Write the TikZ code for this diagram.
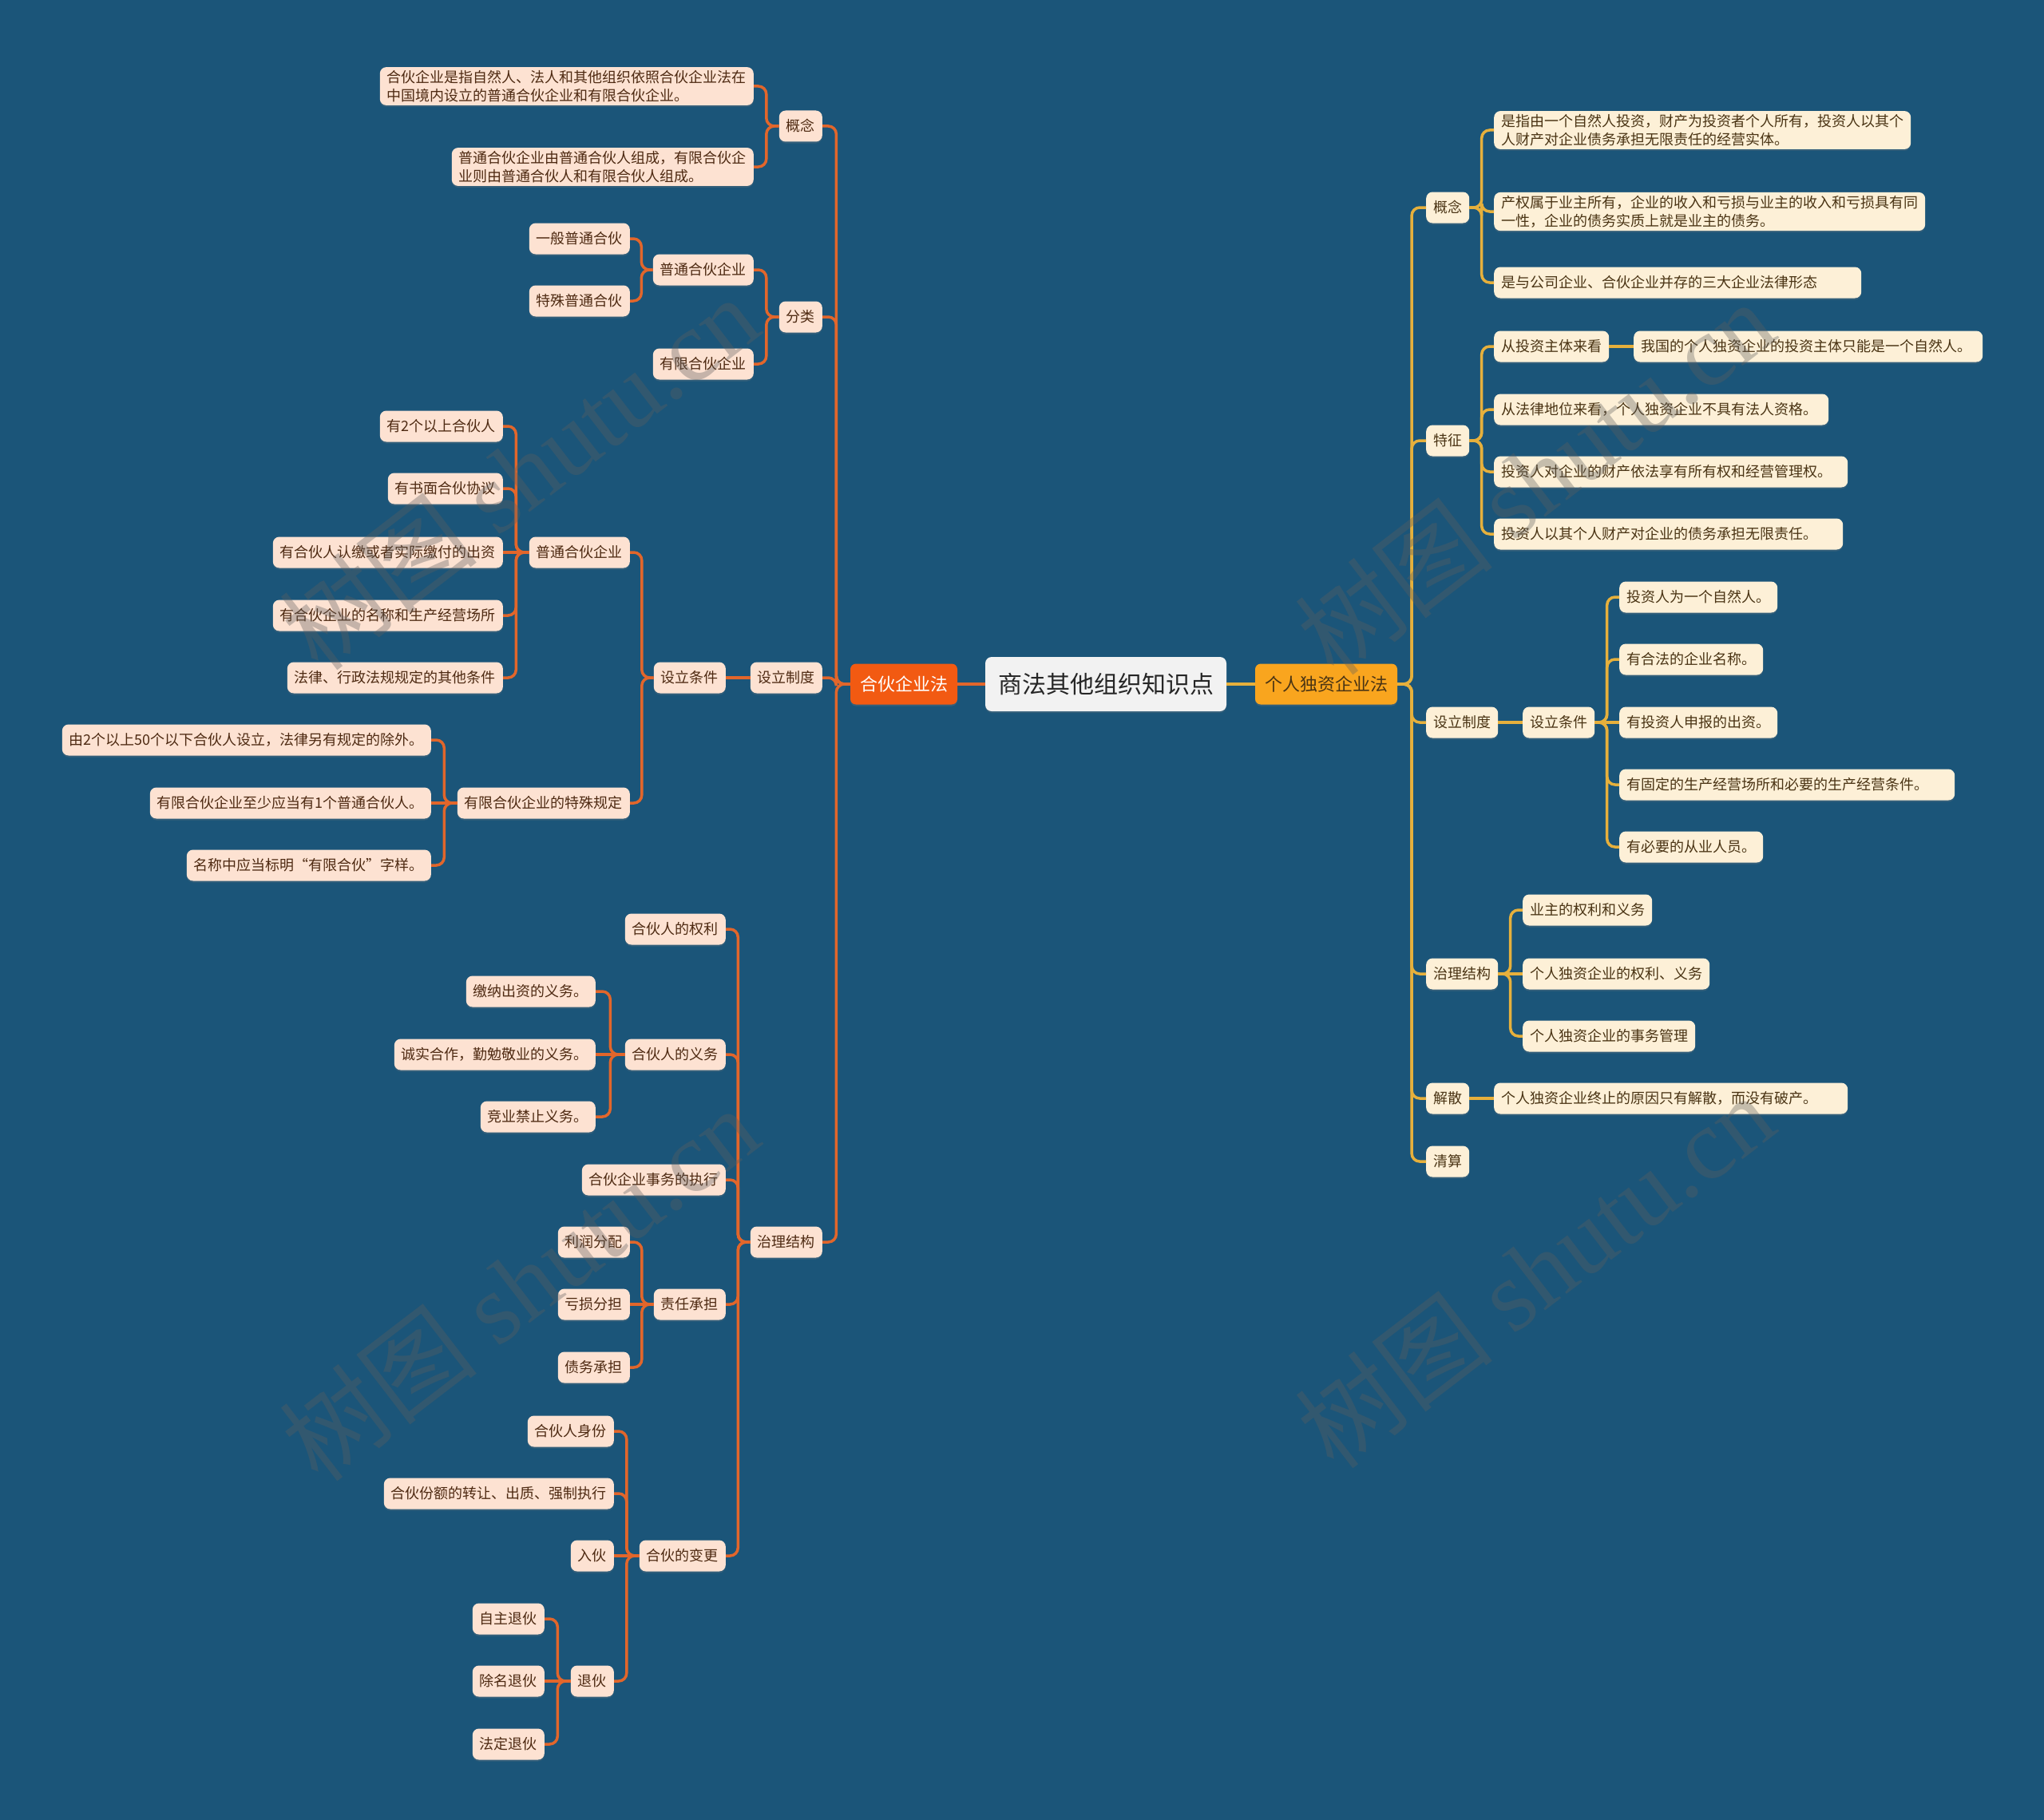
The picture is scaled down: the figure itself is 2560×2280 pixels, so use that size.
\documentclass[tikz,border=0pt]{standalone}
\usepackage{fontspec}
\setmainfont{Noto Sans CJK SC}
\newfontfamily\wmlatin{Liberation Serif}
\usetikzlibrary{calc,shadows}
\definecolor{bgc}{HTML}{1B5579}
\definecolor{lfill}{HTML}{FDE2D2}
\definecolor{rfill}{HTML}{FDF0D7}
\definecolor{ltext}{HTML}{4E2A12}
\definecolor{rtext}{HTML}{4A3414}
\definecolor{lcol}{HTML}{E2662B}
\definecolor{rcol}{HTML}{E6B03C}
\definecolor{hhfill}{HTML}{F25A12}
\definecolor{grfill}{HTML}{F9A51E}
\definecolor{cfill}{HTML}{F2F2F2}
\definecolor{wmc}{HTML}{5E5E5E}
\tikzset{
  base/.style={rounded corners=8pt, inner xsep=9pt, inner ysep=4pt, minimum height=39pt,
    font=\fontsize{18}{23}\selectfont, align=left,
    drop shadow={shadow xshift=0pt,shadow yshift=-2pt,opacity=0.25}},
  ln/.style={base, fill=lfill, text=ltext, anchor=east},
  rn/.style={base, fill=rfill, text=rtext, anchor=west},
  lline/.style={draw=lcol, line width=3.5pt, rounded corners=10pt},
  rline/.style={draw=rcol, line width=3.5pt, rounded corners=10pt},
  wmark/.style={rotate=37.5, text=wmc, text opacity=0.35, font=\fontsize{126}{130}\selectfont, inner sep=0pt},
}
\newcommand\LConn[2]{\coordinate (mm) at ($(#1.west)!0.5!(#2.east)$);
  \draw[lline] (#1.west) -- (#1.west -| mm) |- (#2.east);}
\newcommand\RConn[2]{\coordinate (mm) at ($(#1.east)!0.5!(#2.west)$);
  \draw[rline] (#1.east) -- (#1.east -| mm) |- (#2.west);}
\newcommand\LStr[2]{\draw[lline] (#1.west) -- (#2.east);}
\newcommand\RStr[2]{\draw[rline] (#1.east) -- (#2.west);}
\newcommand\wmtext{树图 {\wmlatin shutu.cn}}
\begin{document}
\begin{tikzpicture}[x=1pt,y=-1pt]
\fill[bgc] (0,0) rectangle (2560,2280);
\useasboundingbox (0,0) rectangle (2560,2280);

% central
\node[rounded corners=8pt, fill=cfill, text=black!85, minimum width=302pt, minimum height=68pt,
  font=\fontsize{30}{36}\selectfont, drop shadow={shadow xshift=0pt,shadow yshift=-2pt,opacity=0.25}]
  (C) at (1385,857) {商法其他组织知识点};
\node[rounded corners=7pt, fill=hhfill, text=white, minimum height=51pt, inner xsep=12pt,
  font=\fontsize{22}{26}\selectfont, drop shadow={shadow xshift=0pt,shadow yshift=-2pt,opacity=0.25}]
  (L) at (1132,857) {合伙企业法};
\node[rounded corners=7pt, fill=grfill, text=rtext, minimum height=51pt, inner xsep=12pt,
  font=\fontsize{22}{26}\selectfont, drop shadow={shadow xshift=0pt,shadow yshift=-2pt,opacity=0.25}]
  (R) at (1661,857) {个人独资企业法};
\draw[draw=lcol, line width=4pt] (C.west) -- (L.east);
\draw[draw=rcol, line width=4pt] (C.east) -- (R.west);

% ---------------- left tree
\node[ln] (La) at (1030,158) {概念};
\node[ln] (La1) at (944,108) {合伙企业是指自然人、法人和其他组织依照合伙企业法在\\中国境内设立的普通合伙企业和有限合伙企业。};
\node[ln] (La2) at (944,209) {普通合伙企业由普通合伙人组成，有限合伙企\\业则由普通合伙人和有限合伙人组成。};
\node[ln] (Lb) at (1030,397) {分类};
\node[ln] (Lb1) at (944,338) {普通合伙企业};
\node[ln] (Lb11) at (789,299) {一般普通合伙};
\node[ln] (Lb12) at (789,377) {特殊普通合伙};
\node[ln] (Lb2) at (944,456) {有限合伙企业};
\node[ln] (Lc) at (1030,849) {设立制度};
\node[ln] (Lc1) at (909,849) {设立条件};
\node[ln] (Lc11) at (789,692) {普通合伙企业};
\node[ln] (Lc111) at (630,534) {有2个以上合伙人};
\node[ln] (Lc112) at (630,612) {有书面合伙协议};
\node[ln] (Lc113) at (630,692) {有合伙人认缴或者实际缴付的出资};
\node[ln] (Lc114) at (630,771) {有合伙企业的名称和生产经营场所};
\node[ln] (Lc115) at (630,849) {法律、行政法规规定的其他条件};
\node[ln] (Lc12) at (789,1006) {有限合伙企业的特殊规定};
\node[ln] (Lc121) at (540,927) {由2个以上50个以下合伙人设立，法律另有规定的除外。};
\node[ln] (Lc122) at (540,1006) {有限合伙企业至少应当有1个普通合伙人。};
\node[ln] (Lc123) at (540,1084) {名称中应当标明“有限合伙”字样。};
\node[ln] (Ld) at (1030,1556) {治理结构};
\node[ln] (Ld1) at (909,1164) {合伙人的权利};
\node[ln] (Ld2) at (909,1321) {合伙人的义务};
\node[ln] (Ld21) at (746,1242) {缴纳出资的义务。};
\node[ln] (Ld22) at (746,1321) {诚实合作，勤勉敬业的义务。};
\node[ln] (Ld23) at (746,1399) {竞业禁止义务。};
\node[ln] (Ld3) at (909,1478) {合伙企业事务的执行};
\node[ln] (Ld4) at (909,1634) {责任承担};
\node[ln] (Ld41) at (789,1556) {利润分配};
\node[ln] (Ld42) at (789,1634) {亏损分担};
\node[ln] (Ld43) at (789,1713) {债务承担};
\node[ln] (Ld5) at (909,1949) {合伙的变更};
\node[ln] (Ld51) at (769,1793) {合伙人身份};
\node[ln] (Ld52) at (769,1871) {合伙份额的转让、出质、强制执行};
\node[ln] (Ld53) at (769,1949) {入伙};
\node[ln] (Ld54) at (769,2106) {退伙};
\node[ln] (Ld541) at (682,2028) {自主退伙};
\node[ln] (Ld542) at (682,2106) {除名退伙};
\node[ln] (Ld543) at (682,2185) {法定退伙};

\LConn{L}{La}\LConn{L}{Lb}\LConn{L}{Lc}\LConn{L}{Ld}
\LConn{La}{La1}\LConn{La}{La2}
\LConn{Lb}{Lb1}\LConn{Lb}{Lb2}
\LConn{Lb1}{Lb11}\LConn{Lb1}{Lb12}
\LStr{Lc}{Lc1}
\LConn{Lc1}{Lc11}\LConn{Lc1}{Lc12}
\LConn{Lc11}{Lc111}\LConn{Lc11}{Lc112}\LStr{Lc11}{Lc113}\LConn{Lc11}{Lc114}\LConn{Lc11}{Lc115}
\LConn{Lc12}{Lc121}\LStr{Lc12}{Lc122}\LConn{Lc12}{Lc123}
\LConn{Ld}{Ld1}\LConn{Ld}{Ld2}\LConn{Ld}{Ld3}\LConn{Ld}{Ld4}\LConn{Ld}{Ld5}
\LConn{Ld2}{Ld21}\LStr{Ld2}{Ld22}\LConn{Ld2}{Ld23}
\LConn{Ld4}{Ld41}\LStr{Ld4}{Ld42}\LConn{Ld4}{Ld43}
\LConn{Ld5}{Ld51}\LConn{Ld5}{Ld52}\LStr{Ld5}{Ld53}\LConn{Ld5}{Ld54}
\LConn{Ld54}{Ld541}\LStr{Ld54}{Ld542}\LConn{Ld54}{Ld543}

% ---------------- right tree
\node[rn] (Ra) at (1786,260) {概念};
\node[rn] (Ra1) at (1871,163) {是指由一个自然人投资，财产为投资者个人所有，投资人以其个\\人财产对企业债务承担无限责任的经营实体。};
\node[rn] (Ra2) at (1871,265) {产权属于业主所有，企业的收入和亏损与业主的收入和亏损具有同\\一性，企业的债务实质上就是业主的债务。};
\node[rn] (Ra3) at (1871,354) {是与公司企业、合伙企业并存的三大企业法律形态\hspace*{46pt}};
\node[rn] (Rb) at (1786,552) {特征};
\node[rn] (Rb1) at (1871,434) {从投资主体来看};
\node[rn] (Rb11) at (2046,434) {我国的个人独资企业的投资主体只能是一个自然人。\hspace*{5pt}};
\node[rn] (Rb2) at (1871,513) {从法律地位来看，个人独资企业不具有法人资格。\hspace*{5pt}};
\node[rn] (Rb3) at (1871,591) {投资人对企业的财产依法享有所有权和经营管理权。\hspace*{11pt}};
\node[rn] (Rb4) at (1871,669) {投资人以其个人财产对企业的债务承担无限责任。\hspace*{23pt}};
\node[rn] (Rc) at (1786,905) {设立制度};
\node[rn] (Rc1) at (1907,905) {设立条件};
\node[rn] (Rc11) at (2028,748) {投资人为一个自然人。};
\node[rn] (Rc12) at (2028,826) {有合法的企业名称。};
\node[rn] (Rc13) at (2028,905) {有投资人申报的出资。};
\node[rn] (Rc14) at (2028,983) {有固定的生产经营场所和必要的生产经营条件。\hspace*{24pt}};
\node[rn] (Rc15) at (2028,1061) {有必要的从业人员。};
\node[rn] (Rd) at (1786,1220) {治理结构};
\node[rn] (Rd1) at (1907,1140) {业主的权利和义务};
\node[rn] (Rd2) at (1907,1220) {个人独资企业的权利、义务};
\node[rn] (Rd3) at (1907,1298) {个人独资企业的事务管理};
\node[rn] (Re) at (1786,1376) {解散};
\node[rn] (Re1) at (1871,1376) {个人独资企业终止的原因只有解散，而没有破产。\hspace*{29pt}};
\node[rn] (Rf) at (1786,1455) {清算};

\RConn{R}{Ra}\RConn{R}{Rb}\RConn{R}{Rc}\RConn{R}{Rd}\RConn{R}{Re}\RConn{R}{Rf}
\RConn{Ra}{Ra1}\RConn{Ra}{Ra2}\RConn{Ra}{Ra3}
\RConn{Rb}{Rb1}\RConn{Rb}{Rb2}\RConn{Rb}{Rb3}\RConn{Rb}{Rb4}
\RStr{Rb1}{Rb11}
\RStr{Rc}{Rc1}
\RConn{Rc1}{Rc11}\RConn{Rc1}{Rc12}\RStr{Rc1}{Rc13}\RConn{Rc1}{Rc14}\RConn{Rc1}{Rc15}
\RConn{Rd}{Rd1}\RStr{Rd}{Rd2}\RConn{Rd}{Rd3}
\RStr{Re}{Re1}

% ---------------- watermarks
\node[wmark] (W1) at (650,592) {\wmtext};
\node[wmark] (W2) at (650,1608) {\wmtext};
\node[wmark] (W3) at (1922,598) {\wmtext};
\node[wmark] (W4) at (1922,1592) {\wmtext};
\end{tikzpicture}
\end{document}
